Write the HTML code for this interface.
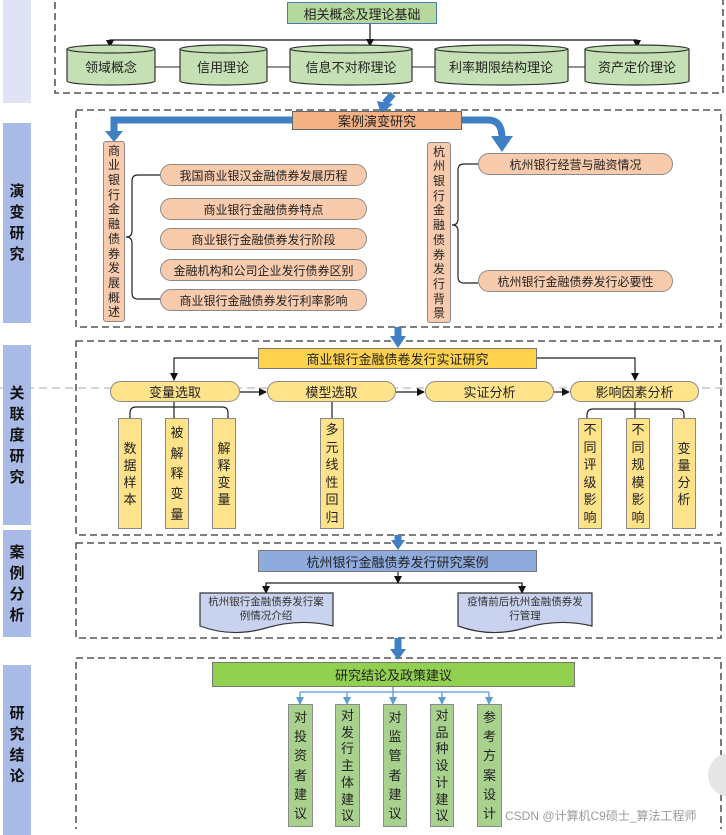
<!DOCTYPE html>
<html><head><meta charset="utf-8"><style>
body{margin:0;width:726px;height:829px;overflow:hidden;background:#fff;font-family:"Liberation Sans","Noto Sans CJK SC",sans-serif;position:relative}
.a{position:absolute;box-sizing:border-box;display:flex;align-items:center;justify-content:center;color:#222;white-space:nowrap}
.side{background:#a9bae6;color:#111;font-weight:bold;font-size:15px;flex-direction:column;left:3px;width:28px}
.side span{display:block;line-height:21px}
.pill{border:1.5px solid #8a8a8a;border-radius:11px;font-size:12px;background:#f8cbad}
.yp{background:#ffe38a;font-size:13px}
.v{flex-direction:column;justify-content:space-evenly;border:1px solid #8a8a8a;font-size:13px;line-height:1}
svg{position:absolute;left:0;top:0}
</style></head><body>
<svg width="726" height="829">
<defs>
<marker id="ar" markerWidth="8" markerHeight="8" refX="7" refY="4" orient="auto" markerUnits="userSpaceOnUse"><path d="M0,0 L8,4 L0,8z" fill="#111"/></marker>
<marker id="lb" markerWidth="8" markerHeight="8" refX="7" refY="4" orient="auto" markerUnits="userSpaceOnUse"><path d="M0,0 L8,4 L0,8z" fill="#5b9bd5"/></marker>
</defs>
<g fill="none" stroke="#333" stroke-width="1.3" stroke-dasharray="7,4">
<rect x="55" y="-5" width="668" height="98"/>
<rect x="76" y="110" width="645" height="217"/>
<rect x="76" y="341" width="645" height="194"/>
<rect x="76" y="543" width="645" height="95"/>
<rect x="76" y="658" width="645" height="180"/>
</g>
<line x1="0" y1="388" x2="726" y2="388" stroke="#aaa" stroke-dasharray="8,5"/>
<g stroke="#111" stroke-width="1.2" fill="none">
<polyline points="110,48 110,40 637,40 637,48" />
<line x1="370" y1="24" x2="370" y2="46" marker-end="url(#ar)"/>
<line x1="110" y1="40" x2="110" y2="47" marker-end="url(#ar)"/>
<line x1="637" y1="40" x2="637" y2="47" marker-end="url(#ar)"/>
<line x1="155" y1="67" x2="180" y2="67" stroke="#555"/>
<line x1="267" y1="67" x2="290" y2="67" stroke="#555"/>
<line x1="412" y1="67" x2="435" y2="67" stroke="#555"/>
<line x1="568" y1="67" x2="585" y2="67" stroke="#555"/>
</g>
<g fill="#c5e0b4" stroke="#333" stroke-width="1.2">
<path d="M67,49 v32 a44,4 0 0 0 88,0 v-32 a44,4 0 0 0 -88,0 a44,4 0 0 0 88,0"/>
<path d="M180,49 v32 a43.5,4 0 0 0 87,0 v-32 a43.5,4 0 0 0 -87,0 a43.5,4 0 0 0 87,0"/>
<path d="M290,49 v32 a61,4 0 0 0 122,0 v-32 a61,4 0 0 0 -122,0 a61,4 0 0 0 122,0"/>
<path d="M435,49 v32 a66.5,4 0 0 0 133,0 v-32 a66.5,4 0 0 0 -133,0 a66.5,4 0 0 0 133,0"/>
<path d="M585,49 v32 a52,4 0 0 0 104,0 v-32 a52,4 0 0 0 -104,0 a52,4 0 0 0 104,0"/>
</g>
<g fill="none" stroke="#3f7fc4" stroke-width="7">
<line x1="393" y1="94" x2="385" y2="103"/>
<polyline points="293,120 114,120 114,133"/>
<path d="M462,120 H488 Q502,120 502,138"/>
<line x1="398" y1="327" x2="398" y2="338"/>
<line x1="398" y1="535" x2="398" y2="542"/>
<line x1="398" y1="638" x2="398" y2="651"/>
</g>
<g fill="#3f7fc4">
<path d="M377,101 L393,104 L381,114z"/>
<path d="M105,131 L123,131 L114,142z"/>
<path d="M491,136 L513,136 L502,152z"/>
<path d="M390,336 L406,336 L398,348z"/>
<path d="M391,540 L405,540 L398,550z"/>
<path d="M390,649 L406,649 L398,660z"/>
</g>
<g fill="none" stroke="#222" stroke-width="1.2">
<path d="M160,175 H138 Q132,175 132,181 V231 Q132,237 126,237 Q132,237 132,243 V293 Q132,299 138,299 H160"/>
<path d="M478,164 H464 Q458,164 458,170 V219 Q458,225 452,225 Q458,225 458,231 V277 Q458,283 464,283 H478"/>
<polyline points="258,358 174,358 174,380" marker-end="url(#ar)"/>
<polyline points="537,358 635,358 635,380" marker-end="url(#ar)"/>
<line x1="240" y1="392" x2="266" y2="392" marker-end="url(#ar)"/>
<line x1="396" y1="392" x2="424" y2="392" marker-end="url(#ar)"/>
<line x1="554" y1="392" x2="569" y2="392" marker-end="url(#ar)"/>
<line x1="174" y1="402" x2="174" y2="418"/>
<path d="M130,418 V413 Q130,407 136,407 H222 Q228,407 228,413 V418"/>
<line x1="332" y1="402" x2="332" y2="418"/>
<line x1="635" y1="402" x2="635" y2="418"/>
<path d="M587,418 V415 Q587,409 593,409 H678 Q684,409 684,415 V418"/>
<line x1="398" y1="572" x2="398" y2="583" marker-end="url(#ar)"/>
<polyline points="266,592 266,583 522,583 522,592"/>
<line x1="266" y1="583" x2="266" y2="593" marker-end="url(#ar)"/>
<line x1="522" y1="583" x2="522" y2="593" marker-end="url(#ar)"/>
</g>
<g fill="none" stroke="#5b9bd5" stroke-width="1.3">
<line x1="393" y1="687" x2="393" y2="704" marker-end="url(#lb)"/>
<line x1="300" y1="692" x2="489" y2="692"/>
<line x1="300" y1="692" x2="300" y2="704" marker-end="url(#lb)"/>
<line x1="347" y1="692" x2="347" y2="704" marker-end="url(#lb)"/>
<line x1="442" y1="692" x2="442" y2="704" marker-end="url(#lb)"/>
<line x1="489" y1="692" x2="489" y2="704" marker-end="url(#lb)"/>
</g>
<g fill="#c9d3ef" stroke="#333" stroke-width="1.2">
<path d="M200,593 H333 V626 Q300,618 266,628 Q232,638 200,626 Z"/>
<path d="M458,593 H592 V626 Q559,618 525,628 Q491,638 458,626 Z"/>
</g>
<g font-family="Liberation Sans,Noto Sans CJK SC,sans-serif" font-size="10.5" fill="#333" text-anchor="middle">
<text x="266" y="605">杭州银行金融债券发行案</text><text x="266" y="619">例情况介绍</text>
<text x="525" y="605">疫情前后杭州金融债券发</text><text x="525" y="619">行管理</text>
</g>
<g font-family="Liberation Sans,Noto Sans CJK SC,sans-serif" font-size="13" fill="#222" text-anchor="middle">
<text x="111" y="72">领域概念</text><text x="223" y="72">信用理论</text><text x="351" y="72">信息不对称理论</text><text x="501" y="72">利率期限结构理论</text><text x="637" y="72">资产定价理论</text>
</g>
<circle cx="730" cy="775" r="22" fill="#e6e6e6"/>
</svg>

<div class="a side" style="top:0;height:103px;background:#dfe3f5"></div>
<div class="a side" style="top:123px;height:200px"><span>演</span><span>变</span><span>研</span><span>究</span></div>
<div class="a side" style="top:345px;height:180px"><span>关</span><span>联</span><span>度</span><span>研</span><span>究</span></div>
<div class="a side" style="top:530px;height:107px"><span>案</span><span>例</span><span>分</span><span>析</span></div>
<div class="a side" style="top:665px;height:170px;justify-content:flex-start;padding-top:38px"><span>研</span><span>究</span><span>结</span><span>论</span></div>

<div class="a" style="left:287px;top:2px;width:150px;height:22px;background:#b5d99c;border:1.3px solid #4a7ab8;font-size:13px">相关概念及理论基础</div>
<div class="a" style="left:292px;top:111px;width:170px;height:19px;background:#f4b183;border:1.2px solid #666;font-size:13px">案例演变研究</div>

<div class="a v" style="left:103px;top:141px;width:22px;height:181px;background:#f8cbad;border-radius:3px;font-size:12px"><span>商</span><span>业</span><span>银</span><span>行</span><span>金</span><span>融</span><span>债</span><span>券</span><span>发</span><span>展</span><span>概</span><span>述</span></div>
<div class="a v" style="left:427px;top:142px;width:24px;height:181px;background:#f8cbad;border-radius:3px;font-size:12px"><span>杭</span><span>州</span><span>银</span><span>行</span><span>金</span><span>融</span><span>债</span><span>券</span><span>发</span><span>行</span><span>背</span><span>景</span></div>

<div class="a pill" style="left:160px;top:164px;width:207px;height:22px">我国商业银汉金融债券发展历程</div>
<div class="a pill" style="left:160px;top:198px;width:207px;height:22px">商业银行金融债券特点</div>
<div class="a pill" style="left:160px;top:228px;width:207px;height:22px">商业银行金融债券发行阶段</div>
<div class="a pill" style="left:160px;top:259px;width:207px;height:22px">金融机构和公司企业发行债券区别</div>
<div class="a pill" style="left:160px;top:289px;width:207px;height:22px">商业银行金融债券发行利率影响</div>
<div class="a pill" style="left:478px;top:153px;width:195px;height:22px">杭州银行经营与融资情况</div>
<div class="a pill" style="left:478px;top:270px;width:195px;height:22px">杭州银行金融债券发行必要性</div>

<div class="a" style="left:258px;top:348px;width:279px;height:21px;background:#ffd24d;border:1.2px solid #777;font-size:13px">商业银行金融债卷发行实证研究</div>
<div class="a pill yp" style="left:110px;top:381px;width:130px;height:21px">变量选取</div>
<div class="a pill yp" style="left:267px;top:381px;width:129px;height:21px">模型选取</div>
<div class="a pill yp" style="left:425px;top:381px;width:129px;height:21px">实证分析</div>
<div class="a pill yp" style="left:570px;top:381px;width:129px;height:21px">影响因素分析</div>

<div class="a v" style="left:118px;top:418px;width:24px;height:111px;background:#ffe38a;justify-content:center;gap:4px"><span>数</span><span>据</span><span>样</span><span>本</span></div>
<div class="a v" style="left:165px;top:418px;width:24px;height:111px;background:#ffe38a"><span>被</span><span>解</span><span>释</span><span>变</span><span>量</span></div>
<div class="a v" style="left:212px;top:418px;width:24px;height:111px;background:#ffe38a;justify-content:center;gap:4px"><span>解</span><span>释</span><span>变</span><span>量</span></div>
<div class="a v" style="left:320px;top:418px;width:24px;height:111px;background:#ffe38a"><span>多</span><span>元</span><span>线</span><span>性</span><span>回</span><span>归</span></div>
<div class="a v" style="left:578px;top:418px;width:24px;height:111px;background:#ffe38a"><span>不</span><span>同</span><span>评</span><span>级</span><span>影</span><span>响</span></div>
<div class="a v" style="left:626px;top:418px;width:24px;height:111px;background:#ffe38a"><span>不</span><span>同</span><span>规</span><span>模</span><span>影</span><span>响</span></div>
<div class="a v" style="left:672px;top:418px;width:24px;height:111px;background:#ffe38a;justify-content:center;gap:4px"><span>变</span><span>量</span><span>分</span><span>析</span></div>

<div class="a" style="left:258px;top:550px;width:279px;height:22px;background:#8faadc;border:1.2px solid #777;font-size:13px">杭州银行金融债券发行研究案例</div>
<div class="a" style="left:212px;top:662px;width:363px;height:25px;background:#92d050;border:1.2px solid #777;font-size:13px">研究结论及政策建议</div>

<div class="a v" style="left:288px;top:704px;width:25px;height:123px;background:#a9d18e"><span>对</span><span>投</span><span>资</span><span>者</span><span>建</span><span>议</span></div>
<div class="a v" style="left:335px;top:704px;width:25px;height:123px;background:#a9d18e"><span>对</span><span>发</span><span>行</span><span>主</span><span>体</span><span>建</span><span>议</span></div>
<div class="a v" style="left:383px;top:704px;width:24px;height:123px;background:#a9d18e"><span>对</span><span>监</span><span>管</span><span>者</span><span>建</span><span>议</span></div>
<div class="a v" style="left:430px;top:704px;width:24px;height:123px;background:#a9d18e"><span>对</span><span>品</span><span>种</span><span>设</span><span>计</span><span>建</span><span>议</span></div>
<div class="a v" style="left:477px;top:704px;width:25px;height:123px;background:#a9d18e"><span>参</span><span>考</span><span>方</span><span>案</span><span>设</span><span>计</span></div>

<div class="a" style="left:505px;top:806px;width:215px;height:18px;font-size:12px;color:#9a9a9a;justify-content:flex-start">CSDN @计算机C9硕士_算法工程师</div>
</body></html>
